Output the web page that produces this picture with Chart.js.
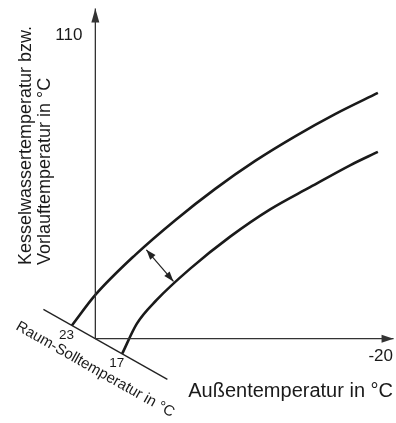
<!DOCTYPE html>
<html lang="de">
<head>
<meta charset="UTF-8">
<title>Heizkennlinie</title>
<script src="https://cdn.jsdelivr.net/npm/chart.js@4"></script>
<style>
  html, body { margin: 0; padding: 0; background: #fff; }
  #wrap { width: 396px; height: 423px; }
</style>
</head>
<body>
<div id="wrap"><canvas id="heatingCurve" width="396" height="423"></canvas></div>
<script>
// Achsbeschriftung: Außentemperatur (x) und Vorlauftemperatur (y) in °C
const outdoorTicks = [-20];
const flowTicks = [110];

// Raum-Sollwerte der beiden Kennlinien
const roomSetpoints = [23, 17];

// Kennlinie für 23 °C Raum-Soll (Fußpunkt kommt von der Raumachse)
const upperOutdoor = [20, 14.4, 8.8, 3.2, -2.4, -8.0, -13.6, -19.6];
const upperFlow = [33.0, 44.9, 55.2, 64.5, 72.8, 80.1, 86.7, 93.0];

// Kennlinie für 17 °C Raum-Soll
const lowerOutdoor = [14.2, 11.4, 6.7, 1.1, -4.5, -10.1, -15.7, -19.6];
const lowerFlow = [24.4, 31.5, 40.8, 50.3, 58.4, 65.0, 71.5, 75.5];

// Doppelpfeil: Parallelverschiebung zwischen den Kennlinien
const shiftOutdoor = [12.85, 9.05];
const shiftFlow = [46.4, 37.0];

// sichtbarer Bereich der schrägen Raum-Soll-Achse
const roomAxisRange = [26.4, 11.6];

const FONT = '"Liberation Sans", Arial, sans-serif';
const INK = '#1a1a1a';

const toPoints = (xs, ys) => xs.map((x, i) => ({ x, y: ys[i] }));

// schräge Achse schneidet das Achsenkreuz (20/20) bei ca. 20,2 °C Raum-Soll
const roomPoint = s => ({ x: 20 + 1.174 * (s - 20.2), y: 20 + 1.405 * (s - 20.2) });

const upperCurve = [roomPoint(roomSetpoints[0]), ...toPoints(upperOutdoor, upperFlow)];
const lowerCurve = [roomPoint(roomSetpoints[1]), ...toPoints(lowerOutdoor, lowerFlow)];

// Pfeilspitzen an Linienenden
const arrowheads = {
  id: 'arrowheads',
  afterDatasetsDraw(chart) {
    const ctx = chart.ctx;
    chart.data.datasets.forEach((ds, i) => {
      if (!ds.arrow) return;
      const pts = chart.getDatasetMeta(i).data;
      const tips = [[pts[pts.length - 1], pts[pts.length - 2]]];
      if (ds.arrow === 'both') tips.push([pts[0], pts[1]]);
      const { len, half } = ds.arrowSize;
      ctx.save();
      ctx.fillStyle = ds.borderColor;
      tips.forEach(([tip, prev]) => {
        const dx = tip.x - prev.x, dy = tip.y - prev.y;
        const d = Math.hypot(dx, dy);
        const ux = dx / d, uy = dy / d;
        const bx = tip.x - ux * len, by = tip.y - uy * len;
        ctx.beginPath();
        ctx.moveTo(tip.x, tip.y);
        ctx.lineTo(bx - uy * half, by + ux * half);
        ctx.lineTo(bx + uy * half, by - ux * half);
        ctx.closePath();
        ctx.fill();
      });
      ctx.restore();
    });
  }
};

// Beschriftungen an Achsen und Raum-Soll-Achse
const labels = {
  id: 'labels',
  afterDraw(chart) {
    const { ctx, scales: { x, y } } = chart;
    const ox = x.getPixelForValue(20), oy = y.getPixelForValue(20);
    ctx.save();
    ctx.fillStyle = INK;

    ctx.font = '17px ' + FONT;
    ctx.textAlign = 'right';
    ctx.textBaseline = 'middle';
    flowTicks.forEach(v => ctx.fillText(String(v), ox - 13, y.getPixelForValue(v)));
    ctx.textAlign = 'center';
    outdoorTicks.forEach(v => ctx.fillText(String(v), x.getPixelForValue(v), oy + 18));

    // Richtung der schrägen Achse in Pixeln
    const a = roomPoint(roomAxisRange[0]), b = roomPoint(roomAxisRange[1]);
    const ax = x.getPixelForValue(a.x), ay = y.getPixelForValue(a.y);
    const bx = x.getPixelForValue(b.x), by = y.getPixelForValue(b.y);
    const len = Math.hypot(bx - ax, by - ay);
    const ux = (bx - ax) / len, uy = (by - ay) / len;
    const px = -uy, py = ux;

    ctx.font = '13.5px ' + FONT;
    roomSetpoints.forEach(s => {
      const p = roomPoint(s);
      ctx.fillText(String(s), x.getPixelForValue(p.x) + px * 11, y.getPixelForValue(p.y) + py * 11);
    });

    ctx.save();
    ctx.translate(ox + ux * 15 + px * 27, oy + uy * 15 + py * 27);
    ctx.rotate(Math.atan2(uy, ux));
    ctx.font = '15px ' + FONT;
    ctx.fillText('Raum-Solltemperatur in °C', 0, 0);
    ctx.restore();

    ctx.font = '20px ' + FONT;
    ctx.textAlign = 'right';
    ctx.textBaseline = 'alphabetic';
    ctx.fillText('Außentemperatur in °C', 393, 397);

    ctx.save();
    ctx.translate(31, 265);
    ctx.rotate(-Math.PI / 2);
    ctx.font = '18px ' + FONT;
    ctx.textAlign = 'left';
    ctx.fillText('Kesselwassertemperatur bzw.', 0, 0);
    ctx.fillText('Vorlauftemperatur in °C', 0, 19);
    ctx.restore();

    ctx.restore();
  }
};

const lineStyle = (color, width) => ({
  borderColor: color,
  borderWidth: width,
  pointRadius: 0,
  fill: false,
  clip: false
});

new Chart(document.getElementById('heatingCurve'), {
  type: 'line',
  data: {
    datasets: [
      { ...lineStyle('#333', 1.3), data: [{ x: 20, y: 20 }, { x: 20, y: 118.1 }], arrow: 'end', arrowSize: { len: 14, half: 4 } },
      { ...lineStyle('#333', 1.3), data: [{ x: 20, y: 20 }, { x: -21.8, y: 20 }], arrow: 'end', arrowSize: { len: 12, half: 4 } },
      { ...lineStyle('#222', 1.3), data: roomAxisRange.map(roomPoint) },
      { ...lineStyle(INK, 2.6), data: upperCurve, cubicInterpolationMode: 'monotone' },
      { ...lineStyle(INK, 2.6), data: lowerCurve, cubicInterpolationMode: 'monotone' },
      { ...lineStyle('#222', 1.2), data: toPoints(shiftOutdoor, shiftFlow), arrow: 'both', arrowSize: { len: 10, half: 3.5 } }
    ]
  },
  options: {
    responsive: false,
    animation: false,
    devicePixelRatio: 1,
    layout: { padding: { left: 24, right: 1, top: 2, bottom: 17 } },
    plugins: { legend: { display: false }, tooltip: { enabled: false } },
    scales: {
      x: { type: 'linear', reverse: true, min: -22, max: 30, display: false },
      y: { type: 'linear', min: 0, max: 120, display: false }
    }
  },
  plugins: [arrowheads, labels]
});
</script>
</body>
</html>
